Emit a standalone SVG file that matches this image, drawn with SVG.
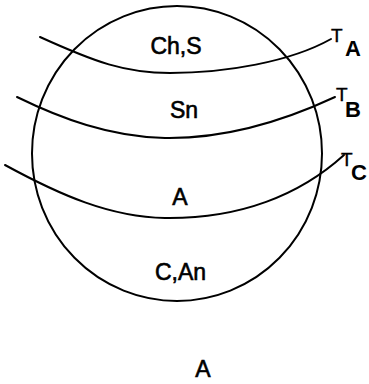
<svg xmlns="http://www.w3.org/2000/svg" width="369" height="384" viewBox="0 0 369 384">
<style>
.ln{fill:none;stroke:#000;stroke-width:2;stroke-linecap:round}
.lb{font-family:"Liberation Sans",Arial,sans-serif;font-size:23px;fill:#000;stroke:#000;stroke-width:0.6;text-anchor:middle}
.t{font-family:"Liberation Sans",Arial,sans-serif;font-size:19px;fill:#000;stroke:#000;stroke-width:0.4}
.s{font-family:"Liberation Sans",Arial,sans-serif;font-size:22px;font-weight:bold;fill:#000}
</style>
<rect width="369" height="384" fill="#fff"/>
<g id="circle"><ellipse class="ln" cx="177" cy="153.5" rx="145" ry="147.5"/></g>
<g id="connectors">
<path id="TA" class="ln" d="M40,37 C95,62 125,73 170,73 C225,73 290,62 331,39"/>
<path id="TB" class="ln" d="M17,97 C60,118 110,137 165,138 C230,139 290,118 335,97"/>
<path id="TC" class="ln" d="M5,165 C60,195 110,217 165,218 C240,219 300,195 344,155"/>
</g>
<g id="labels">
<text class="lb" x="176" y="54">Ch,S</text>
<text class="lb" x="184" y="118">Sn</text>
<text class="lb" x="180" y="205">A</text>
<text class="lb" x="180.5" y="280">C,An</text>
<text class="lb" x="203" y="377">A</text>
</g>
<g id="TA-label"><text class="t" x="331" y="42">T</text><text class="s" x="345" y="56">A</text></g>
<g id="TB-label"><text class="t" x="336" y="101">T</text><text class="s" x="345" y="117">B</text></g>
<g id="TC-label"><text class="t" x="341" y="166">T</text><text class="s" x="351" y="180">C</text></g>
</svg>
